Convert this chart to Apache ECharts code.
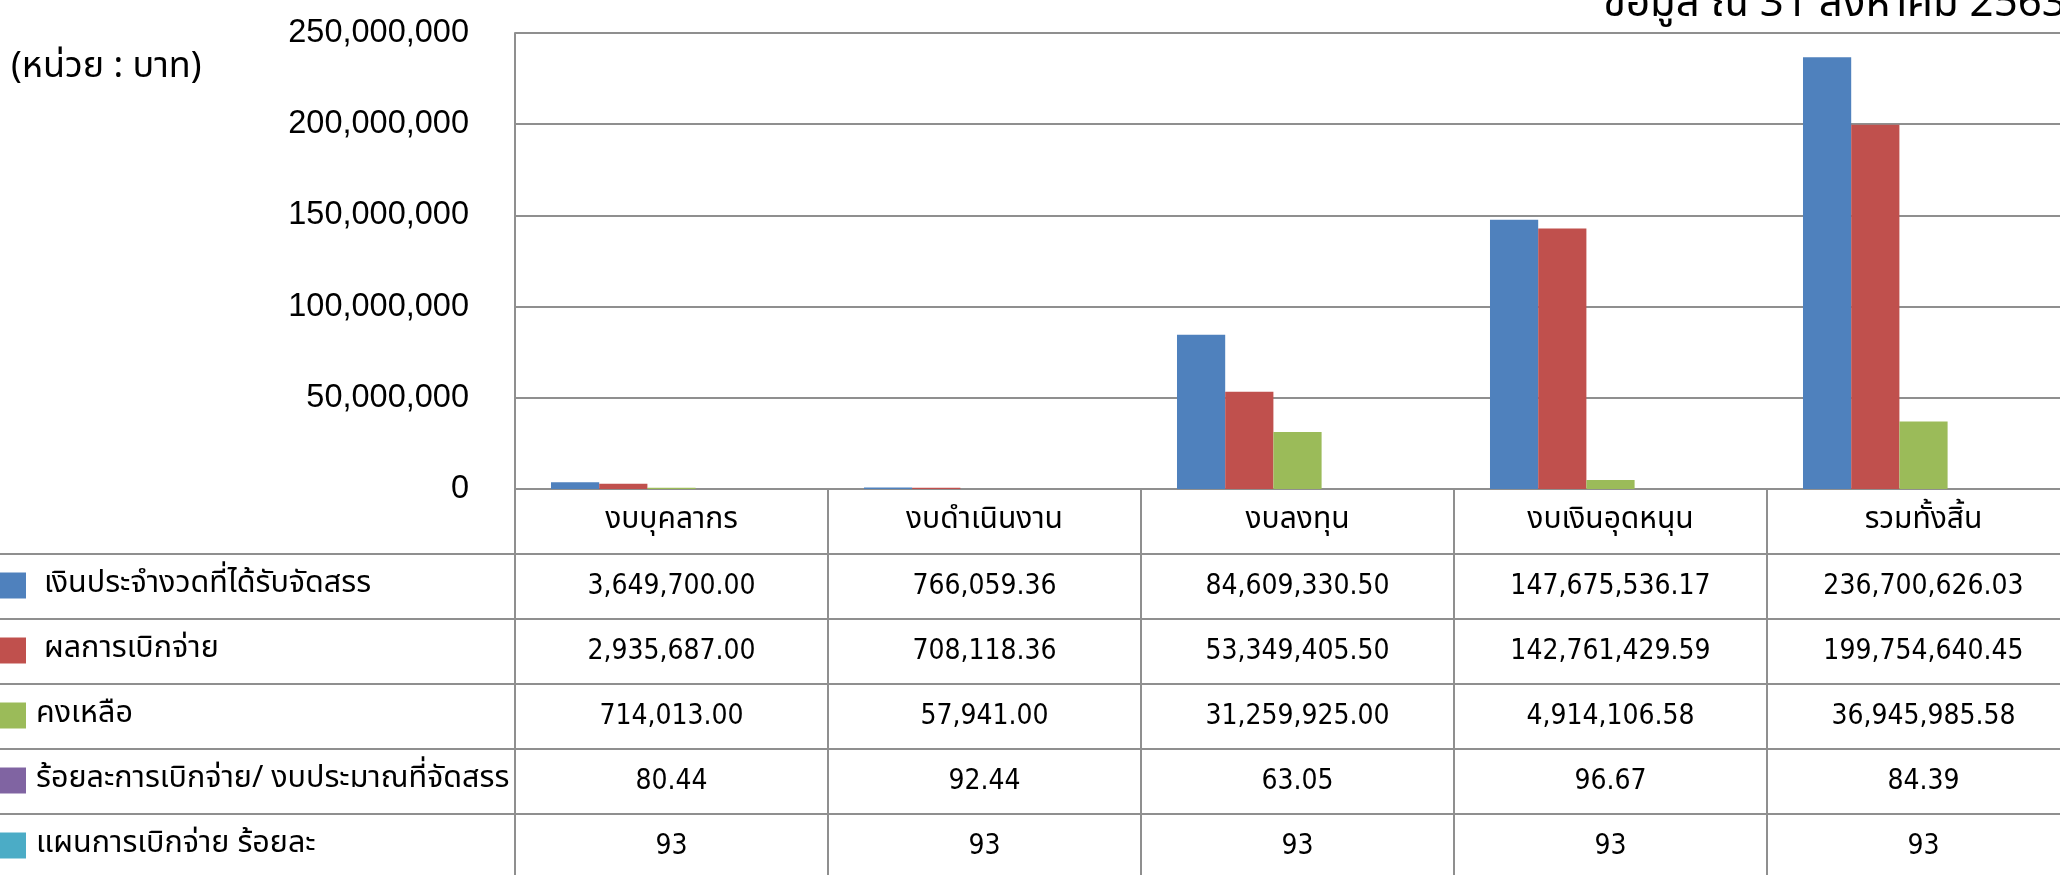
<!DOCTYPE html>
<html>
<head>
<meta charset="utf-8">
<script src="https://cdn.jsdelivr.net/npm/echarts@6/dist/echarts.min.js"></script>
<style>
  html, body { margin: 0; padding: 0; background: #fff; }
  #budgetChart { width: 2060px; height: 875px; }
</style>
</head>
<body>
<div id="budgetChart"></div>
<script>
// หมวดงบประมาณ (แกน x และหัวตาราง)
const categories = ["งบบุคลากร", "งบดำเนินงาน", "งบลงทุน", "งบเงินอุดหนุน", "รวมทั้งสิ้น"];
const seriesNames = [
  " เงินประจำงวดที่ได้รับจัดสรร",
  " ผลการเบิกจ่าย",
  "คงเหลือ",
  "ร้อยละการเบิกจ่าย/ งบประมาณที่จัดสรร",
  "แผนการเบิกจ่าย ร้อยละ"
];
const allocated = [3649700.00, 766059.36, 84609330.50, 147675536.17, 236700626.03];
const disbursed = [2935687.00, 708118.36, 53349405.50, 142761429.59, 199754640.45];
const remaining = [714013.00, 57941.00, 31259925.00, 4914106.58, 36945985.58];
const disbursedPct = [80.44, 92.44, 63.05, 96.67, 84.39];
const planPct = [93, 93, 93, 93, 93];
const yMin = 0;
const yMax = 250000000;
const yStep = 50000000;
const unitLabel = "(หน่วย : บาท)";
const asOfLabel = "ข้อมูล ณ 31 สิงหาคม 2563";

const colors = ["#4F81BD", "#C0504D", "#9BBB59", "#8064A2", "#4BACC6"];
const LINE = "#8f8f8f";
const THAI_FONT = "'Noto Sans Thai', 'Noto Sans', sans-serif";
const NUM_FONT = "'DejaVu Sans Condensed', 'DejaVu Sans', sans-serif";

// layout
const PLOT_LEFT = 515, PLOT_TOP = 33, CAT_W = 313, AXIS_Y = 489, ROW_H = 65, CHART_H = 875;

const fmt2 = v => v.toLocaleString("en-US", { minimumFractionDigits: 2, maximumFractionDigits: 2 });
const tableRows = [
  allocated.map(fmt2),
  disbursed.map(fmt2),
  remaining.map(fmt2),
  disbursedPct.map(fmt2),
  planPct.map(v => String(v))
];
const seriesData = [allocated, disbursed, remaining, disbursedPct, planPct];

let chart = echarts.init(document.getElementById("budgetChart"));

// แกน x เพิ่มเติม ใช้แสดงค่าในแต่ละแถวของตาราง
const rowAxes = tableRows.map((row, i) => ({
  type: "category",
  gridIndex: 0,
  position: "bottom",
  offset: ROW_H * (i + 1),
  data: row,
  axisLine: { show: false, onZero: false },
  axisTick: { show: false },
  splitLine: { show: false },
  axisLabel: {
    interval: 0,
    margin: ROW_H / 2,
    verticalAlign: "middle",
    color: "#000",
    fontSize: 28,
    fontFamily: NUM_FONT
  }
}));

// เส้นแบ่งแถวของตาราง
const rowLines = [1, 2, 3, 4, 5].map(k => ({
  type: "line",
  shape: { x1: 0, y1: AXIS_Y + ROW_H * k, x2: 2060, y2: AXIS_Y + ROW_H * k },
  style: { stroke: LINE, lineWidth: 2 },
  z: 10
}));

chart.setOption({
  animation: false,
  backgroundColor: "#fff",
  color: colors,
  title: [
    {
      text: unitLabel,
      left: 11,
      top: 52,
      padding: 0,
      textStyle: { fontSize: 36, fontWeight: "normal", color: "#000", fontFamily: THAI_FONT }
    },
    {
      text: asOfLabel,
      left: 1603,
      top: -13,
      padding: 0,
      textStyle: { fontSize: 42, fontWeight: "normal", color: "#000", fontFamily: THAI_FONT }
    }
  ],
  legend: {
    data: seriesNames,
    orient: "vertical",
    left: 0,
    top: 570,
    height: 340,
    padding: 0,
    itemWidth: 26,
    itemHeight: 26,
    itemGap: 34,
    icon: "rect",
    selectedMode: false,
    textStyle: {
      fontSize: 30.5,
      lineHeight: 26,
      color: "#000",
      fontFamily: THAI_FONT,
      padding: [0, 0, 0, 5]
    }
  },
  grid: {
    left: PLOT_LEFT,
    top: PLOT_TOP,
    width: CAT_W * categories.length,
    height: AXIS_Y - PLOT_TOP,
    containLabel: false,
    outerBoundsMode: "none"
  },
  xAxis: [
    {
      type: "category",
      gridIndex: 0,
      position: "bottom",
      data: categories,
      axisLine: { onZero: false, lineStyle: { color: LINE, width: 2 } },
      axisTick: { show: true, length: CHART_H - AXIS_Y, lineStyle: { color: LINE, width: 2 } },
      splitLine: { show: false },
      axisLabel: {
        interval: 0,
        margin: ROW_H / 2,
        verticalAlign: "middle",
        color: "#000",
        fontSize: 30,
        fontFamily: THAI_FONT
      }
    }
  ].concat(rowAxes),
  yAxis: {
    type: "value",
    min: yMin,
    max: yMax,
    interval: yStep,
    axisLine: { show: true, lineStyle: { color: LINE, width: 2 } },
    axisTick: { show: false },
    splitLine: { lineStyle: { color: LINE, width: 2 } },
    axisLabel: {
      margin: 46,
      color: "#000",
      fontSize: 32.5,
      fontFamily: "'Liberation Sans', Arial, sans-serif",
      formatter: v => v.toLocaleString("en-US")
    }
  },
  graphic: rowLines,
  series: seriesNames.map((name, i) => ({
    name: name,
    type: "bar",
    xAxisIndex: 0,
    data: seriesData[i],
    barGap: "0%",
    barCategoryGap: "23%"
  }))
});
</script>
</body>
</html>
